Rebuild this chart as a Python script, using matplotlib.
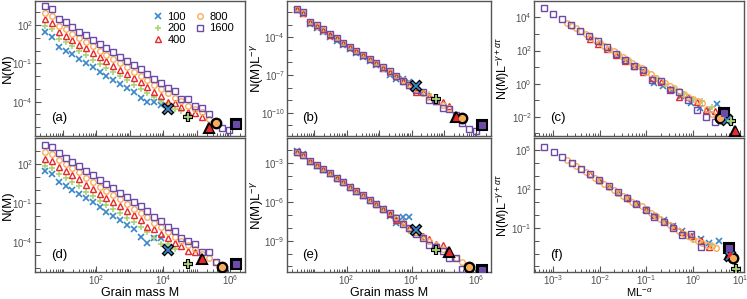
import numpy as np
import matplotlib
matplotlib.use("Agg")
import matplotlib.pyplot as plt
from matplotlib.ticker import LogLocator, NullFormatter, FixedLocator, LogFormatterSciNotation

plt.rcParams['font.family'] = ['Liberation Sans', 'DejaVu Sans']
plt.rcParams['mathtext.fontset'] = 'custom'
plt.rcParams['mathtext.rm'] = 'Liberation Sans'
plt.rcParams['mathtext.it'] = 'Liberation Sans:italic'
plt.rcParams['mathtext.sf'] = 'Liberation Sans'

# ---------------- data ----------------
system_sizes = [100, 200, 400, 800, 1600]
series_labels = ['100', '200', '400', '800', '1600']
colors = ['#3a86c8', '#a8d672', '#e8282c', '#f9ad5c', '#6c4aa8']
markers = ['x', '+', '^', 'o', 's']

# logarithmic grain-mass bins (shared by panels a, b, d, e)
mass_bins = [2.91, 4.66, 7.45, 11.9, 19.1, 30.5, 48.8, 78.1, 125, 200, 320, 512, 819,
             1311, 2097, 3355, 5369, 8590, 13744, 21990, 35184, 56295, 90072, 144115,
             230584, 368935, 590296, 944473, 1511157]

# panel (a): log10 N(M); last entry of each series = largest grain (highlighted)
logN_a_100 = [1.45, 1.10, 0.32, 0.00, -0.29, -0.67, -0.99, -1.30, -1.64, -1.96, -2.27, -2.59,
              -2.91, -3.24, -3.74, -4.00, -4.00, -4.29, -4.58]
logN_a_200 = [1.96, 1.70, 0.94, 0.67, 0.34, -0.05, -0.32, -0.69, -1.03, -1.35, -1.67, -2.00,
              -2.33, -2.66, -2.98, -3.32, -3.63, -3.95, -4.10, -4.60, -4.73, -5.17]
logN_a_400 = [2.49, 2.19, 1.45, 1.18, 0.85, 0.47, 0.19, -0.18, -0.52, -0.84, -1.16, -1.49,
              -1.81, -2.15, -2.46, -2.83, -3.20, -3.56, -4.05, -4.10, -4.39, -4.78, -4.90,
              -5.17, -6.04]
logN_a_800 = [2.98, 2.72, 1.96, 1.70, 1.35, 0.99, 0.71, 0.34, -0.01, -0.32, -0.65, -0.99,
              -1.31, -1.65, -1.96, -2.30, -2.67, -3.01, -3.34, -3.67, -3.98, -4.31, -4.60,
              -4.84, -5.38, -5.64]
logN_a_1600 = [3.51, 3.25, 2.49, 2.22, 1.88, 1.49, 1.23, 0.84, 0.50, 0.19, -0.13, -0.47,
               -0.78, -1.14, -1.43, -1.83, -2.22, -2.56, -2.95, -3.13, -3.77, -3.82, -4.34,
               -4.47, -4.96, -5.60, -6.04, -6.22, -5.75]

# panel (d): log10 N(M) (None = empty bin)
logN_d_100 = [1.46, 1.20, 0.63, 0.32, -0.01, -0.30, -0.66, -0.97, -1.36, -1.69, -2.00, -2.33,
              -2.69, -3.04, -3.61, -4.12, -3.69, -3.69, -4.64]
logN_d_200 = [1.86, 1.69, 1.23, 0.90, 0.59, 0.28, -0.13, -0.44, -0.83, -1.16, -1.47, -1.80,
              -2.16, -2.51, -2.85, -3.23, -3.74, -4.20, -4.20, -4.60, None, -5.72]
logN_d_400 = [2.39, 2.22, 1.76, 1.43, 1.12, 0.81, 0.40, 0.09, -0.30, -0.63, -0.94, -1.27,
              -1.63, -1.98, -2.35, -2.84, -3.02, -3.43, -3.74, -4.12, -4.30, -4.69, -4.77,
              -5.36]
logN_d_800 = [2.92, 2.75, 2.29, 1.96, 1.65, 1.34, 0.93, 0.62, 0.23, -0.10, -0.41, -0.74,
              -1.10, -1.45, -1.77, -2.12, -2.55, -2.90, -3.25, -3.62, -3.95, -4.25, -4.55,
              -4.95, -5.28, -5.60, -5.93]
logN_d_1600 = [3.45, 3.28, 2.82, 2.49, 2.18, 1.87, 1.46, 1.15, 0.76, 0.43, 0.12, -0.21,
               -0.57, -0.95, -1.24, -1.62, -2.10, -2.40, -2.85, -3.15, -3.74, -3.92, -4.20,
               -4.77, -4.77, -5.59, None, None, -5.70]

# scaling exponents used for the collapses
gamma_top = 1.64
gamma_bottom = 1.75

# panel (c): log10(M L^-alpha), log10(N L^(-gamma+alpha tau))
logx_c_100 = [-1.45, -1.26, -1.07, -0.83, -0.64, -0.45, -0.25, -0.05, 0.14, 0.33, 0.52, 0.72]
logy_c_100 = [1.40, 1.04, 0.75, 0.05, -0.12, -0.40, -0.75, -1.19, -1.45, -1.60, -1.23, -2.20]
logx_c_200 = [-2.0, -1.8, -1.6, -1.4, -1.2, -1.0, -0.8, -0.6, -0.4, -0.2, 0.0, 0.2, 0.4, 0.6, 0.82]
logy_c_200 = [2.45, 2.10, 1.75, 1.40, 1.05, 0.70, 0.35, 0.00, -0.30, -0.60, -0.90, -1.05,
              -1.40, -1.64, -2.25]
logx_c_400 = [-2.22, -2.03, -1.84, -1.65, -1.46, -1.26, -1.07, -0.88, -0.69, -0.49, -0.30,
              -0.11, 0.09, 0.28, 0.47, 0.89]
logy_c_400 = [2.72, 2.42, 2.11, 1.71, 1.36, 1.08, 0.70, 0.35, 0.10, -0.35, -0.83, -0.80,
              -1.13, -1.59, -1.68, -2.85]
logx_c_800 = [-2.7, -2.6, -2.5, -2.4, -2.3, -2.2, -2.1, -2.0, -1.9, -1.8, -1.7, -1.6, -1.5,
              -1.4, -1.3, -1.2, -1.1, -1.0, -0.9, -0.8, -0.7, -0.6, -0.5, -0.4, -0.3, -0.2,
              -0.1, 0.0, 0.1, 0.2, 0.3, 0.4, 0.58]
logy_c_800 = [3.67, 3.50, 3.33, 3.15, 2.98, 2.80, 2.64, 2.48, 2.30, 2.12, 1.95, 1.78, 1.60,
              1.42, 1.25, 1.08, 0.92, 0.73, 0.56, 0.36, 0.18, 0.02, -0.15, -0.28, -0.45,
              -0.62, -0.78, -0.92, -1.05, -1.19, -1.50, -1.84, -2.08]
logx_c_1600 = [-3.19, -3.00, -2.81, -2.61, -2.42, -2.23, -2.03, -1.84, -1.65, -1.46, -1.26,
               -1.07, -0.88, -0.69, -0.49, -0.30, -0.11, 0.09, 0.28, 0.47, 0.67]
logy_c_1600 = [4.55, 4.20, 3.90, 3.57, 3.19, 2.86, 2.58, 2.21, 1.81, 1.45, 1.06, 0.84, 0.23,
               0.15, -0.38, -0.52, -0.98, -1.59, -2.04, -2.29, -1.78]

# panel (f)
logx_f_100 = [-1.22, -1.02, -0.83, -0.63, -0.43, -0.24, -0.04, 0.16, 0.35, 0.55, 0.80]
logy_f_100 = [0.85, 0.40, -0.05, -0.40, -0.85, -1.25, -1.62, -1.90, -2.22, -2.06, -3.20]
logx_f_200 = [-2.0, -1.8, -1.6, -1.4, -1.2, -1.0, -0.8, -0.6, -0.4, -0.2, 0.0, 0.2, 0.4, 0.91]
logy_f_200 = [2.63, 2.17, 1.71, 1.25, 0.85, 0.42, -0.12, -0.55, -0.98, -1.45, -1.90, -2.10,
              -2.30, -4.20]
logx_f_400 = [-2.21, -2.01, -1.81, -1.61, -1.42, -1.22, -1.02, -0.83, -0.63, -0.43, -0.24,
              -0.04, 0.16, 0.35, 0.80]
logy_f_400 = [3.13, 2.70, 2.25, 1.80, 1.35, 0.90, 0.45, 0.00, -0.45, -0.85, -1.30, -1.65,
              -1.95, -2.48, -3.00]
logx_f_800 = [-2.7, -2.6, -2.5, -2.4, -2.3, -2.2, -2.1, -2.0, -1.9, -1.8, -1.7, -1.6, -1.5,
              -1.4, -1.3, -1.2, -1.1, -1.0, -0.9, -0.8, -0.7, -0.6, -0.5, -0.4, -0.3, -0.2,
              -0.1, 0.0, 0.1, 0.2, 0.3, 0.4, 0.5, 0.86]
logy_f_800 = [4.24, 4.01, 3.78, 3.55, 3.32, 3.09, 2.86, 2.63, 2.40, 2.17, 1.94, 1.71, 1.48,
              1.25, 1.02, 0.85, 0.65, 0.42, 0.12, -0.12, -0.35, -0.55, -0.75, -0.98, -1.22,
              -1.45, -1.65, -1.90, -2.05, -2.20, -2.35, -2.45, -2.60, -3.36]
logx_f_1600 = [-3.19, -2.99, -2.80, -2.60, -2.40, -2.21, -2.01, -1.81, -1.61, -1.42, -1.22,
               -1.02, -0.83, -0.63, -0.43, -0.24, -0.04, 0.16, 0.76]
logy_f_1600 = [5.28, 4.89, 4.50, 4.03, 3.55, 3.13, 2.68, 2.20, 1.75, 1.30, 0.86, 0.40,
               -0.19, -0.55, -1.00, -1.55, -1.48, -2.53, -2.60]

# ---------------- figure ----------------
W, H = 747, 299
fig = plt.figure(figsize=(W / 100, H / 100), dpi=100)


def add_axes(x0, x1, y0, y1):
    return fig.add_axes([x0 / W, 1 - y1 / H, (x1 - x0) / W, (y1 - y0) / H])


ax_a = add_axes(35, 245, 1, 136)
ax_d = add_axes(35, 245, 138, 272)
ax_b = add_axes(287, 491, 1, 136)
ax_e = add_axes(287, 491, 138, 272)
ax_c = add_axes(534, 744, 1, 136)
ax_f = add_axes(534, 744, 138, 272)

SPINE = '#555555'
TICKC = '#555555'


def style(ax, xlim, ylim, ymajor, show_x, xmajor):
    ax.set_xscale('log')
    ax.set_yscale('log')
    ax.set_xlim(*xlim)
    ax.set_ylim(*ylim)
    for s in ax.spines.values():
        s.set_color(SPINE)
        s.set_linewidth(1.0)
    ax.xaxis.set_major_locator(FixedLocator(xmajor))
    ax.xaxis.set_minor_locator(LogLocator(base=10, subs=np.arange(1, 10), numticks=40))
    ax.xaxis.set_minor_formatter(NullFormatter())
    ax.yaxis.set_major_locator(FixedLocator(ymajor))
    ax.yaxis.set_minor_locator(LogLocator(base=10, subs=(1.0,), numticks=40))
    ax.yaxis.set_minor_formatter(NullFormatter())
    ax.yaxis.set_major_formatter(LogFormatterSciNotation())
    ax.xaxis.set_major_formatter(LogFormatterSciNotation())
    ax.tick_params(which='both', direction='in', color=TICKC, labelcolor='#505050',
                   labelsize=7.0, top=False, right=False, pad=1.5)
    ax.tick_params(axis='x', pad=1.0)
    ax.tick_params(which='major', length=4, width=0.8)
    ax.tick_params(which='minor', length=2.2, width=0.7)
    ax.tick_params(axis='y', which='minor', length=3.5)
    if not show_x:
        ax.tick_params(axis='x', labelbottom=False)


def draw(ax, xs, ys, color, marker, label=None):
    xs = np.asarray(xs, dtype=float)
    ys = np.asarray(ys, dtype=float)
    filled = marker in ('x', '+')
    ax.plot(xs[:-1], ys[:-1], ls='none', marker=marker, ms=4.0,
            mfc=color if filled else 'none', mec=color,
            mew=1.2 if filled else 1.0, label=label, zorder=3)
    # highlighted largest grain
    ax.plot(xs[-1:], ys[-1:], ls='none', marker=marker, ms=7.0,
            mfc='black', mec='black', mew=3.0 if filled else 1.5, zorder=4)
    ax.plot(xs[-1:], ys[-1:], ls='none', marker=marker, ms=5.2 if filled else 4.3,
            mfc=color, mec=color, mew=1.3 if filled else 0.8, zorder=5)


bins = np.asarray(mass_bins, dtype=float)
rows = {
    'a': [logN_a_100, logN_a_200, logN_a_400, logN_a_800, logN_a_1600],
    'd': [logN_d_100, logN_d_200, logN_d_400, logN_d_800, logN_d_1600],
}
for key, ax_raw, ax_col, gam in (('a', ax_a, ax_b, gamma_top), ('d', ax_d, ax_e, gamma_bottom)):
    for L, logN, col, mk, lab in zip(system_sizes, rows[key], colors, markers, series_labels):
        n = len(logN)
        N = 10.0 ** np.asarray(logN, dtype=float)
        M = bins[:n]
        draw(ax_raw, M, N, col, mk, label=lab)
        draw(ax_col, M, N * float(L) ** (-gam), col, mk)

c_sets = [(logx_c_100, logy_c_100), (logx_c_200, logy_c_200), (logx_c_400, logy_c_400),
          (logx_c_800, logy_c_800), (logx_c_1600, logy_c_1600)]
f_sets = [(logx_f_100, logy_f_100), (logx_f_200, logy_f_200), (logx_f_400, logy_f_400),
          (logx_f_800, logy_f_800), (logx_f_1600, logy_f_1600)]
for ax, sets in ((ax_c, c_sets), (ax_f, f_sets)):
    for (lx, ly), col, mk in zip(sets, colors, markers):
        draw(ax, 10.0 ** np.asarray(lx), 10.0 ** np.asarray(ly), col, mk)

xlim_mass = (10 ** 0.16, 10 ** 6.45)
style(ax_a, xlim_mass, (10 ** -6.69, 10 ** 3.90), [1e2, 1e-1, 1e-4], False,
      [1e1, 1e2, 1e3, 1e4, 1e5, 1e6])
style(ax_d, xlim_mass, (10 ** -6.34, 10 ** 4.0), [1e2, 1e-1, 1e-4], True, [1e2, 1e4, 1e6])
style(ax_b, xlim_mass, (10 ** -11.85, 10 ** -1.11), [1e-4, 1e-7, 1e-10], False,
      [1e1, 1e2, 1e3, 1e4, 1e5, 1e6])
style(ax_e, xlim_mass, (10 ** -11.43, 10 ** -1.04), [1e-3, 1e-6, 1e-9], True, [1e2, 1e4, 1e6])
xm_sc = [1e-3, 1e-2, 1e-1, 1e0, 1e1]
xlim_sc = (10 ** -3.41, 10 ** 1.09)
style(ax_c, xlim_sc, (10 ** -3.16, 10 ** 4.99), [1e4, 1e2, 1e0, 1e-2], False, xm_sc)
style(ax_f, xlim_sc, (10 ** -4.43, 10 ** 5.96), [1e5, 1e2, 1e-1], True, xm_sc)

ylabels = [(ax_a, 'N(M)', 8.0, 9.5), (ax_d, 'N(M)', 8.0, 9.5),
           (ax_b, r'N(M)L$^{-\gamma}$', 257, 9.5), (ax_e, r'N(M)L$^{-\gamma}$', 257, 9.5),
           (ax_c, r'N(M)L$^{-\gamma+\alpha\tau}$', 504, 9.0),
           (ax_f, r'N(M)L$^{-\gamma+\alpha\tau}$', 504, 9.0)]
for ax, txt, xpix, fs in ylabels:
    ax.set_ylabel(txt, fontsize=fs, va='center')
    x0 = ax.get_position().x0 * W
    wid = ax.get_position().width * W
    ax.yaxis.set_label_coords((xpix - x0) / wid, 0.5)

for ax, txt, top_px, fs in ((ax_d, 'Grain mass M', 287, 9.0), (ax_e, 'Grain mass M', 287, 9.0),
                            (ax_f, r'ML$^{-\alpha}$', 286.5, 8.0)):
    ax.set_xlabel(txt, fontsize=fs, va='top')
    hgt = ax.get_position().height * H
    ax.xaxis.set_label_coords(0.5, -(top_px - 272) / hgt)

for ax, t in ((ax_a, '(a)'), (ax_b, '(b)'), (ax_c, '(c)'), (ax_d, '(d)'), (ax_e, '(e)'), (ax_f, '(f)')):
    ax.text(0.075, 0.13, t, transform=ax.transAxes, fontsize=9.5, ha='left', va='center')

leg = ax_a.legend(ncol=2, loc='upper right', frameon=False, fontsize=8,
                  handletextpad=0.3, columnspacing=0.8, labelspacing=0.12,
                  borderaxespad=0.6, handlelength=1.0, markerscale=1.0)

fig.savefig('out.png', dpi=100)
